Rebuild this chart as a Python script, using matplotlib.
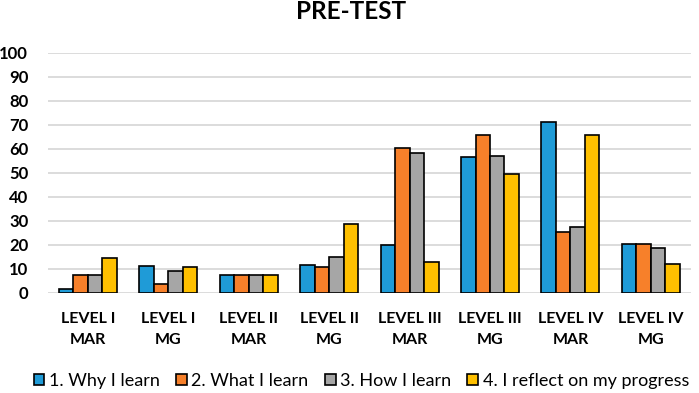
import matplotlib
matplotlib.use("Agg")
import matplotlib.pyplot as plt
import numpy as np

categories = ["LEVEL I\nMAR", "LEVEL I\nMG", "LEVEL II\nMAR", "LEVEL II\nMG",
              "LEVEL III\nMAR", "LEVEL III\nMG", "LEVEL IV\nMAR", "LEVEL IV\nMG"]
series_names = ["1. Why I learn", "2. What I learn", "3. How I learn",
                "4. I reflect on my progress"]
why_learn = [1.7, 11.1, 7.4, 11.7, 19.9, 56.4, 71.0, 20.3]
what_learn = [7.4, 3.6, 7.4, 10.7, 60.3, 65.6, 25.3, 20.3]
how_learn = [7.4, 9.0, 7.4, 15.0, 58.0, 56.9, 27.4, 18.8]
reflect = [14.4, 10.7, 7.4, 28.5, 12.9, 49.4, 65.6, 11.8]
yticks = [0, 10, 20, 30, 40, 50, 60, 70, 80, 90, 100]

colors = ["#1f9bd7", "#f7802a", "#a6a6a6", "#ffc000"]
series = [why_learn, what_learn, how_learn, reflect]

plt.rcParams['font.family'] = ['Lato', 'DejaVu Sans']

fig = plt.figure(figsize=(6.99, 3.93), dpi=100)
ax = fig.add_axes([0.0682, 0.2552, 0.9204, 0.6108])

x = np.arange(len(categories))
w = 0.18
for i, (vals, c, name) in enumerate(zip(series, colors, series_names)):
    ax.bar(x + (i - 1.5) * w, vals, width=w, color=c, edgecolor="black",
           linewidth=1.2, label=name, zorder=3)

ax.set_xlim(-0.5, len(categories) - 0.5)
ax.set_ylim(0, 100)
ax.set_yticks(yticks)
ax.set_yticklabels([str(t) for t in yticks], fontsize=12, fontweight="bold")
ax.set_xticks(x)
ax.set_xticklabels(categories, fontsize=11.5, fontweight="bold", linespacing=1.6)
ax.tick_params(axis="both", length=0)
ax.tick_params(axis="y", pad=14)
ax.tick_params(axis="x", pad=14)
ax.yaxis.grid(True, color="#d9d9d9", linewidth=1.3, zorder=0)
for s in ax.spines.values():
    s.set_visible(False)

fig.text(0.502, 0.972, "PRE-TEST", ha="center", va="center", fontsize=17.5,
         fontweight="bold")

fig.legend(loc="center", bbox_to_anchor=(0.517, 0.031), ncol=4, frameon=False,
           fontsize=13, handlelength=0.6, handleheight=0.6, handletextpad=0.25,
           columnspacing=0.9, borderaxespad=0, borderpad=0)

fig.savefig("out.png", dpi=100)
